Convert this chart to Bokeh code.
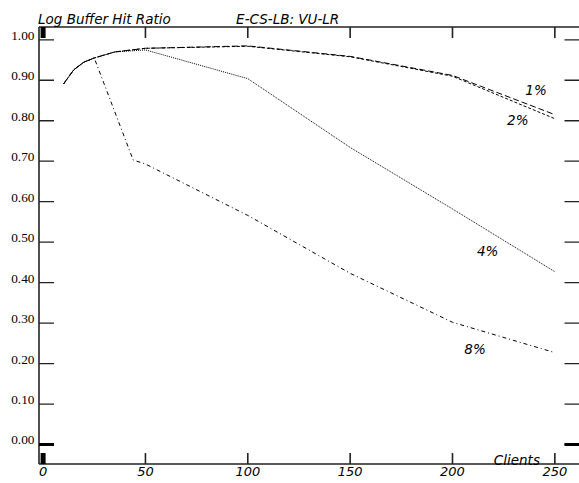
import math
from bokeh.plotting import figure
from bokeh.models import Range1d, FixedTicker, LinearAxis
from bokeh.core.properties import value
from bokeh.embed import file_html
from bokeh.resources import INLINE

# ---- data ----
clients_1 = [10, 15, 20, 25, 35, 50, 100, 150, 200, 250]
hit_1 = [0.891, 0.926, 0.945, 0.955, 0.970, 0.979, 0.985, 0.959, 0.912, 0.815]
clients_2 = [10, 15, 20, 25, 35, 50, 100, 150, 200, 250]
hit_2 = [0.891, 0.926, 0.945, 0.955, 0.970, 0.979, 0.984, 0.958, 0.910, 0.805]
clients_4 = [10, 15, 20, 25, 35, 50, 100, 150, 200, 250]
hit_4 = [0.891, 0.926, 0.945, 0.955, 0.970, 0.975, 0.904, 0.734, 0.582, 0.427]
clients_8 = [10, 15, 20, 25, 44, 50, 100, 150, 200, 250]
hit_8 = [0.891, 0.926, 0.945, 0.955, 0.703, 0.693, 0.566, 0.423, 0.302, 0.227]

series_names = ["1%", "2%", "4%", "8%"]
x_ticks = [0, 50, 100, 150, 200, 250]
x_tick_labels = ["0", "50", "100", "150", "200", "250"]
y_ticks = [0.0, 0.1, 0.2, 0.3, 0.4, 0.5, 0.6, 0.7, 0.8, 0.9, 1.0]
y_tick_labels = ["0.00", "0.10", "0.20", "0.30", "0.40", "0.50",
                 "0.60", "0.70", "0.80", "0.90", "1.00"]
title_left = "Log Buffer Hit Ratio"
title_mid = "E-CS-LB: VU-LR"
x_name = "Clients"

# axis box (data units) and plotting ranges
X_LEFT, X_RIGHT = -2.0, 262.05
Y_BOTTOM, Y_TOP = -0.0482, 1.0316
X0, X1 = -2.733, 262.05
Y0, Y1 = -0.0519, 1.0971
LABEL_LIFT = 0.0099  # y tick labels sit a little above their tick

SANS = "DejaVu Sans"
SERIF = "Liberation Serif"
INK = "#222222"

p = figure(width=579, height=483, x_range=Range1d(X0, X1), y_range=Range1d(Y0, Y1),
           output_backend="svg", toolbar_location=None,
           x_axis_location=None, y_axis_location=None,
           min_border_left=37, min_border_right=0, min_border_top=0, min_border_bottom=18,
           outline_line_color=None, background_fill_color="white", border_fill_color="white")
p.grid.visible = False

# left axis: labels only
label_pos = [t + LABEL_LIFT for t in y_ticks]
left = LinearAxis(ticker=FixedTicker(ticks=label_pos))
left.major_label_overrides = {t: l for t, l in zip(label_pos, y_tick_labels)}
left.major_tick_in = 0
left.major_tick_out = 0
left.minor_tick_in = 0
left.minor_tick_out = 0
left.major_label_standoff = 3
left.major_label_text_font = SERIF
left.major_label_text_font_size = "13.3px"
left.major_label_text_color = "black"
left.axis_line_color = None
p.add_layout(left, "left")

# bottom axis: labels only
bottom = LinearAxis(ticker=FixedTicker(ticks=x_ticks))
bottom.major_label_overrides = {t: l for t, l in zip(x_ticks, x_tick_labels)}
bottom.major_tick_in = 0
bottom.major_tick_out = 0
bottom.minor_tick_in = 0
bottom.minor_tick_out = 0
bottom.major_label_standoff = 1
bottom.major_label_text_font = SANS
bottom.major_label_text_font_style = "italic"
bottom.major_label_text_font_size = "13px"
bottom.major_label_text_color = "black"
bottom.axis_line_color = None
p.add_layout(bottom, "below")

# axis box lines
p.segment(x0=[X_LEFT, X_LEFT, X_LEFT], y0=[Y_BOTTOM, Y_BOTTOM, Y_TOP],
          x1=[X_LEFT, X_RIGHT, X_RIGHT], y1=[Y_TOP, Y_BOTTOM, Y_TOP],
          line_color=INK, line_width=1.6)

# inward ticks
ny, nx = len(y_ticks), len(x_ticks)
p.ray(x=[X_LEFT] * ny, y=y_ticks, length=15, length_units="screen", angle=0,
      line_color=INK, line_width=1.3)
p.ray(x=[X_RIGHT] * ny, y=y_ticks, length=15, length_units="screen", angle=math.pi,
      line_color=INK, line_width=1.3)
p.ray(x=x_ticks, y=[Y_BOTTOM] * nx, length=11, length_units="screen", angle=math.pi / 2,
      line_color=INK, line_width=1.6)
p.ray(x=x_ticks, y=[Y_TOP] * nx, length=11, length_units="screen", angle=-math.pi / 2,
      line_color=INK, line_width=1.6)

# emphasised origin ticks
p.ray(x=[x_ticks[0], x_ticks[0]], y=[Y_BOTTOM, Y_TOP], length=11, length_units="screen",
      angle=[math.pi / 2, -math.pi / 2], line_color="black", line_width=5)
p.ray(x=[X_LEFT, X_RIGHT], y=[y_ticks[0], y_ticks[0]], length=15, length_units="screen",
      angle=[0, math.pi], line_color="black", line_width=3)

# curves
p.line(clients_4, hit_4, line_color="black", line_width=1, line_dash="1 1")
p.line(clients_8, hit_8, line_color="black", line_width=1, line_dash="4 3 1 3")
p.line(clients_2, hit_2, line_color="black", line_width=1, line_dash="3 2")
p.line(clients_1, hit_1, line_color="black", line_width=1, line_dash="6 3")

# curve labels
lab_x = [240.8, 231.9, 217.2, 211.0]
lab_y = [0.875, 0.802, 0.479, 0.236]
p.text(x=lab_x, y=lab_y, text=series_names, text_font=value(SANS), text_font_style="italic",
       text_font_size="13.5px", text_align="center", text_baseline="middle", text_color="black")

# titles and axis name
p.text(x=[-2.49, 94.3, 220.2], y=[1.0514, 1.0514, -0.0395],
       text=[title_left, title_mid, x_name], text_font=value(SANS), text_font_style="italic",
       text_font_size="13.5px", text_align="left", text_baseline="alphabetic", text_color="black")

open("out.html", "w").write(file_html(p, INLINE))
